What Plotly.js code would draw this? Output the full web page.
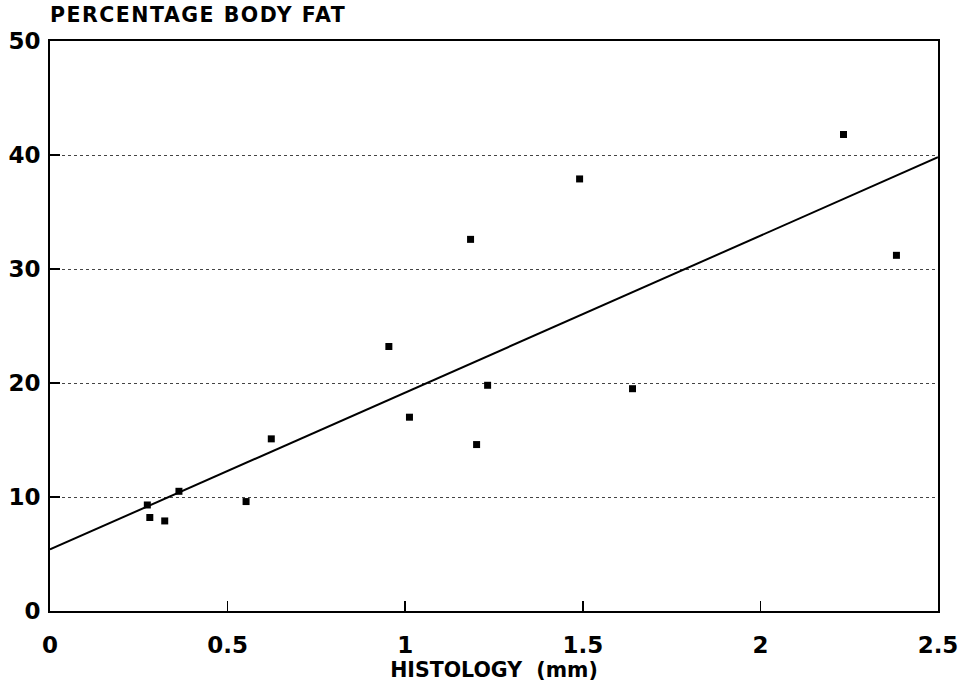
<!DOCTYPE html>
<html>
<head>
<meta charset="utf-8">
<script src="https://cdn.plot.ly/plotly-3.0.1.min.js"></script>
<style>
  html, body { margin: 0; padding: 0; background: #fff; }
  #chart .gtitle { letter-spacing: 1.5px; }
</style>
</head>
<body>
<div id="chart" style="width:961px;height:690px;"></div>
<script>
// Data
const histologyMm = [0.274, 0.281, 0.323, 0.363, 0.552, 0.623, 0.954, 1.012, 1.184, 1.201, 1.232, 1.491, 1.640, 2.234, 2.383];
const bodyFatPct  = [9.3, 8.2, 7.9, 10.5, 9.6, 15.1, 23.2, 17.0, 32.6, 14.6, 19.8, 37.9, 19.5, 41.8, 31.2];
const fitX = [0, 2.5];
const fitY = [5.4, 39.8];
const xTickVals = [0, 0.5, 1, 1.5, 2, 2.5];
const xTickText = ['0', '0.5', '1', '1.5', '2', '2.5'];
const yTickVals = [0, 10, 20, 30, 40, 50];
const yTickText = ['0', '10', '20', '30', '40', '50'];
const xTitle = 'HISTOLOGY  (mm)';
const yTitle = 'PERCENTAGE BODY FAT';

const FONT = '"DejaVu Sans", "Liberation Sans", Arial, sans-serif';

const traces = [
  {
    x: fitX, y: fitY, type: 'scatter', mode: 'lines',
    line: { color: '#000', width: 2 },
    hoverinfo: 'skip', showlegend: false
  },
  {
    x: histologyMm, y: bodyFatPct, type: 'scatter', mode: 'markers',
    marker: { symbol: 'square', size: 7, color: '#000', line: { width: 0 } },
    showlegend: false
  }
];

const layout = {
  width: 961, height: 690,
  margin: { l: 50, r: 23, t: 41, b: 79 },
  paper_bgcolor: '#fff', plot_bgcolor: '#fff',
  font: { family: FONT, color: '#000', size: 22, weight: 'bold' },
  showlegend: false,
  title: {
    text: yTitle,
    font: { family: FONT, size: 20.5, color: '#000', weight: 'bold' },
    xref: 'paper', x: 0, xanchor: 'left',
    yref: 'container', y: 1 - 8 / 690, yanchor: 'top',
    pad: { t: 0, b: 0, l: 0, r: 0 }
  },
  xaxis: {
    range: [0, 2.5],
    tickvals: xTickVals, ticktext: xTickText,
    ticks: 'inside', ticklen: 10, tickwidth: 1.5, tickcolor: '#000',
    showline: true, linecolor: '#000', linewidth: 2, mirror: true,
    showgrid: false, zeroline: false,
    tickfont: { family: FONT, size: 23, color: '#000', weight: 'bold' },
    ticklabelstandoff: 12,
    title: {
      text: xTitle,
      font: { family: FONT, size: 20.5, color: '#000', weight: 'bold' },
      standoff: 6
    }
  },
  yaxis: {
    range: [0, 50],
    tickvals: yTickVals, ticktext: yTickText,
    ticks: 'inside', ticklen: 10, tickwidth: 1.5, tickcolor: '#000',
    showline: true, linecolor: '#000', linewidth: 2, mirror: true,
    showgrid: true, gridcolor: '#444', gridwidth: 1, griddash: 'dot',
    zeroline: false,
    tickfont: { family: FONT, size: 23, color: '#000', weight: 'bold' },
    ticklabelstandoff: 3
  }
};

Plotly.newPlot('chart', traces, layout, { displayModeBar: false, staticPlot: true });
</script>
</body>
</html>
